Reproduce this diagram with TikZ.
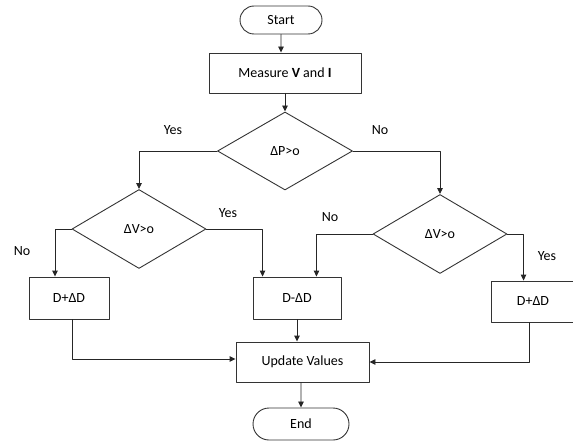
\documentclass[tikz,border=0pt]{standalone}
\usepackage{fontspec}
\setmainfont{Carlito}
\usetikzlibrary{arrows.meta,shapes.geometric,shapes.misc}

\tikzset{
    blocco/.style={draw=black!80, rectangle, inner sep=0pt},
    rombo/.style={draw=black!80, diamond, inner sep=0pt},
    terminale/.style={draw=black!80, rounded rectangle, inner sep=0pt},
    freccia/.style={draw=black!85, -{Triangle[length=6pt,width=5.5pt]}},
    etichetta/.style={inner sep=0pt}
}

\begin{document}
\begin{tikzpicture}[
    x=1pt, y=-1pt,
    line cap=round,
    line join=round,
    line width=0.9pt,
    font=\fontsize{14}{16}\selectfont
]
\useasboundingbox (0,0) rectangle (573,441);
\clip (0,0) rectangle (573,441);

% Inizio e misura
\node[terminale, minimum width=82pt, minimum height=28pt] (start) at (281,20) {Start};
\node[blocco, minimum width=152pt, minimum height=40pt] (measure) at (285,73)
    {Measure \textbf{V} and \textbf{I}};

% Decisioni
\node[rombo, minimum width=135pt, minimum height=78pt] (dp) at (285,151) {ΔP>o};
\node[rombo, minimum width=134pt, minimum height=79pt] (dv1) at (139,229) {ΔV>o};
\node[rombo, minimum width=134pt, minimum height=79pt] (dv2) at (440,234) {ΔV>o};

% Blocchi di aggiornamento
\node[blocco, minimum width=80pt, minimum height=42pt] (inc1) at (69,298) {D+ΔD};
\node[blocco, minimum width=88pt, minimum height=42pt] (dec) at (297,298) {D-ΔD};
\node[blocco, minimum width=84pt, minimum height=41pt] (inc2) at (533,301.5) {D+ΔD};
\node[blocco, minimum width=133pt, minimum height=40pt] (update) at (302.5,362) {Update Values};
\node[terminale, minimum width=96pt, minimum height=32pt] (end) at (301,424) {End};

% Etichette
\node[etichetta] (yes1) at (173,130) {Yes};
\node[etichetta] (no1) at (380,130) {No};
\node[etichetta] (yes2) at (228,213) {Yes};
\node[etichetta] (no2) at (22,251) {No};
\node[etichetta] (no3) at (330,217) {No};
\node[etichetta] (yes3) at (547,256) {Yes};

% Collegamenti
\draw[freccia] (start) -- (start |- measure.north);
\draw[freccia] (measure) -- (dp);
\draw[freccia] (dp.west) -| (dv1.north);
\draw[freccia] (dp.east) -| (dv2.north);
\draw[freccia] (dv1.west) -| ([xshift=-14pt]inc1.north);
\draw[freccia] (dv1.east) -| ([xshift=10pt]dec.north west);
\draw[freccia] (dv2.west) -| ([xshift=-25pt]dec.north east);
\draw[freccia] (dv2.east) -| ([xshift=33pt]inc2.north west);
\draw[freccia] ([xshift=3pt]inc1.south) |- ([yshift=3pt]update.west);
\draw[freccia] (dec) -- (dec |- update.north);
\draw[freccia] ([xshift=-4pt]inc2.south) |- (update.east);
\draw[freccia] (update.south -| end) -- (end);

\end{tikzpicture}
\end{document}
